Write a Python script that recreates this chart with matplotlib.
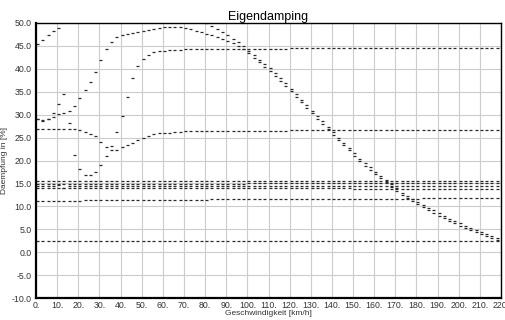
import matplotlib
matplotlib.use("Agg")
import matplotlib.pyplot as plt
import numpy as np

# speed grid of the eigenvalue analysis [km/h]
speed = np.arange(0, 220.1, 2.5)

# damping of each eigenmode [%] (NaN = outside plot)
line_15_6 = [15.6] * 89
line_15_0 = [14.9] * 40 + [15.0] * 49
line_14_4 = [14.5, 14.5, 14.5, 14.5, 14.6, 14.0] + [14.4] * 83
line_13_9 = [14.0] * 30 + [13.9] * 30 + [13.8] * 29
line_11_5 = [11.2] * 9 + [11.3] * 12 + [11.4] * 12 + [11.5] * 12 + [11.6] * 14 + [11.7] * 14 + [11.8] * 16
line_2_5 = [2.45] * 89

mode_b = [26.9, 26.9, 26.9, 26.9, 26.95, 26.9, 26.9, 26.85,
          26.7, 26.3, 25.8, 25.3, 24.1, 22.9, 22.4, 22.4, 22.9, 23.4, 23.9, 24.5,
          25.0, 25.4, 25.7, 25.9, 26.0, 26.1, 26.2, 26.3, 26.35, 26.4, 26.4, 26.45] \
    + [26.5] * 16 + [26.6] * 41

mode_g = [29.0, 28.6, 29.0, 29.4, 30.1, 30.4, 30.8, 32.0, 33.6, 35.3,
          37.1, 39.3, 41.9, 44.3, 45.9, 46.9, 47.4, 47.6, 47.8, 48.0,
          48.3, 48.5, 48.8, 49.0, 49.1, 49.2, 49.2, 49.1, 48.9, 48.6,
          48.3, 48.0, 47.7, 47.4, 47.0, 46.6, 46.1, 45.6, 45.0, 44.3,
          43.4, 42.4, 41.4, 40.5, 39.5, 38.4, 37.4, 36.3, 35.1, 33.9,
          32.7, 31.5, 30.3, 29.1, 28.0, 26.8, 25.6, 24.4, 23.3, 22.2,
          21.0, 19.9, 18.9, 18.0, 17.1, 16.2, 15.3, 14.3, 13.4, 12.5,
          11.8, 11.1, 10.5, 9.8, 9.2, 8.6, 8.0, 7.4, 6.8, 6.3,
          5.8, 5.3, 4.8, 4.4, 3.9, 3.5, 3.1, 2.7, 2.4]

mode_h = [29.15, 28.75, 29.15, 30.3, 32.3, 34.6, 28.1, 21.2, 18.2, 16.9,
          16.8, 17.6, 19.1, 21.0, 23.2, 26.2, 29.7, 33.9, 37.9, 40.7,
          42.1, 43.1, 43.6, 43.9, 44.0, 44.1, 44.2, 44.2, 44.3, 44.3,
          44.3, 44.35] + [44.4] * 16 + [44.5] * 41

mode_d_start = 0.0
mode_d = [45.4, 46.3, 47.3, 48.2, 49.0]

mode_e_start = 80.0
mode_e = [49.9, 49.3, 48.7, 48.0, 47.3, 46.6, 45.8, 44.9, 44.0,
          43.0, 42.0, 41.1, 40.1, 39.0, 38.0, 36.9, 35.7, 34.5, 33.3,
          32.1, 30.9, 29.7, 28.6, 27.4, 26.2, 25.0, 23.9, 22.8, 21.6,
          20.4, 19.4, 18.5, 17.6, 16.7, 15.8, 14.8, 13.9, 13.0, 12.3,
          11.6, 11.0, 10.3, 9.7, 9.1, 8.5, 7.9, 7.3, 6.8, 6.3,
          5.8, 5.3, 4.9, 4.4, 4.0, 3.6, 3.2, 2.9]


def place(start, values):
    full = np.full(len(speed), np.nan)
    i0 = int(round(start / 2.5))
    full[i0:i0 + len(values)] = values
    return full


modes = [line_15_6, line_15_0, line_14_4, line_13_9, line_11_5, line_2_5,
         mode_b, mode_g, mode_h,
         place(mode_d_start, mode_d), place(mode_e_start, mode_e)]

plt.rcParams['font.family'] = ['Liberation Sans', 'DejaVu Sans']

fig = plt.figure(figsize=(5.05, 3.2), dpi=100)
ax = fig.add_axes([36 / 505, 1 - 298 / 320, 465 / 505, 275 / 320])

# short dash starting at the point, like the original plotter
dash = [(0, 0), (1, 0)]
for vals in modes:
    ax.plot(speed, vals, linestyle='none', marker=dash, markersize=4.4,
            markeredgewidth=0.9, color='#2a2a2a', clip_on=True)

ax.set_xlim(0, 220)
ax.set_ylim(-10, 50)
ax.set_xticks(np.arange(0, 221, 10))
ax.set_xticklabels([f"{v}." for v in range(0, 221, 10)])
ax.set_yticks(np.arange(-10, 50.1, 5))
ax.set_yticklabels([f"{v:.1f}" for v in np.arange(-10, 50.1, 5)])
ax.tick_params(length=0, labelsize=6.3, colors='#333333')
ax.tick_params(axis='x', pad=2)
ax.tick_params(axis='y', pad=3)
ax.grid(True, color='#cccccc', linewidth=0.8)
ax.set_axisbelow(True)

for side in ['left', 'bottom']:
    ax.spines[side].set_linewidth(1.6)
for side in ['top', 'right']:
    ax.spines[side].set_linewidth(1.0)

ax.set_title('Eigendamping', fontsize=9, pad=1.5)
ax.set_xlabel('Geschwindigkeit [km/h]', fontsize=6.0, labelpad=0.5, color='#333333')
ax.set_ylabel('Daempfung in [%]', fontsize=6.0, labelpad=3, color='#333333')

fig.savefig('out.png', dpi=100)
